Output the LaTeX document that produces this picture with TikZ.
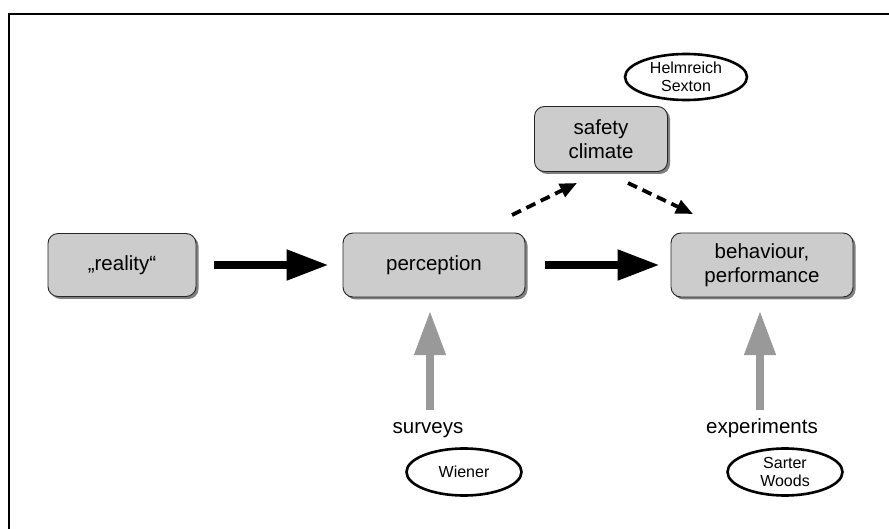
\documentclass[tikz,border=0pt]{standalone}
\usepackage{fontspec}
\setmainfont{Liberation Sans}
\usetikzlibrary{arrows.meta,shadows,shapes.geometric}
\definecolor{boxfill}{HTML}{CCCCCC}
\definecolor{arrowgray}{HTML}{999999}
\definecolor{shadowgray}{HTML}{808080}
\begin{document}
\begin{tikzpicture}[x=1pt,y=-1pt,
  box/.style={draw=black!85, line width=0.9pt, fill=boxfill, rounded corners=10pt,
    align=center, inner sep=0pt, font=\fontsize{20.5}{24.5}\selectfont,
    drop shadow={shadow xshift=2.5pt, shadow yshift=-2.5pt, fill=shadowgray, opacity=1}},
  refnode/.style={ellipse, draw=black, line width=2.6pt, fill=white, align=center, inner sep=0pt,
    font=\fontsize{16}{18}\selectfont},
  lbl/.style={font=\fontsize{20.5}{24}\selectfont, inner sep=0pt},
  bigarrow/.style={draw=black, line width=8pt, -{Triangle[length=42pt,width=29pt]}},
  dasharrow/.style={draw=black, line width=3.8pt, dash pattern=on 10pt off 6pt,
    -{Triangle[length=17pt,width=14pt]}},
  grayarrow/.style={draw=arrowgray, line width=7.5pt, -{Triangle[length=44pt,width=30pt]}}
]
\useasboundingbox (0,0) rectangle (889,529);
% frame
\draw[line width=2pt] (9,540) -- (9,14) -- (900,14);

% boxes
\node[box, minimum width=148pt, minimum height=63pt] (reality) at (122,265) {„reality“};
\node[box, minimum width=182pt, minimum height=64pt] (perception) at (434,265) {perception};
\node[box, minimum width=182pt, minimum height=64pt] (behaviour) at (762,265) {behaviour,\\performance};
\node[box, minimum width=133pt, minimum height=65pt] (safety) at (601,139) {safety\\climate};

% reference ellipses
\node[refnode, minimum width=122pt, minimum height=46pt] (helm) at (686,77) {Helmreich\\Sexton};
\node[refnode, minimum width=115pt, minimum height=47pt] (wiener) at (464,472) {Wiener};
\node[refnode, minimum width=115pt, minimum height=47pt] (sarter) at (785,472) {Sarter\\Woods};

% labels
\node[lbl, anchor=base] (surveys) at (428,433) {surveys};
\node[lbl, anchor=base] (experiments) at (762,433) {experiments};

% main arrows
\draw[bigarrow, shorten <=18pt, shorten >=14pt] (reality.east) -- (perception.west);
\draw[bigarrow, shorten <=20pt, shorten >=11pt] (perception.east) -- (behaviour.west);

% dashed arrows
\coordinate (d1s) at (512,215);
\coordinate (d1e) at (577,183);
\coordinate (d2s) at (628,183);
\coordinate (d2e) at (693,214);
\draw[dasharrow] (d1s) -- (d1e);
\draw[dasharrow] (d2s) -- (d2e);

% gray arrows
\coordinate (g1s) at (430,410);
\coordinate (g1e) at (430,311);
\coordinate (g2s) at (760,410);
\coordinate (g2e) at (760,311);
\draw[grayarrow] (g1s) -- (g1e);
\draw[grayarrow] (g2s) -- (g2e);
\end{tikzpicture}
\end{document}
